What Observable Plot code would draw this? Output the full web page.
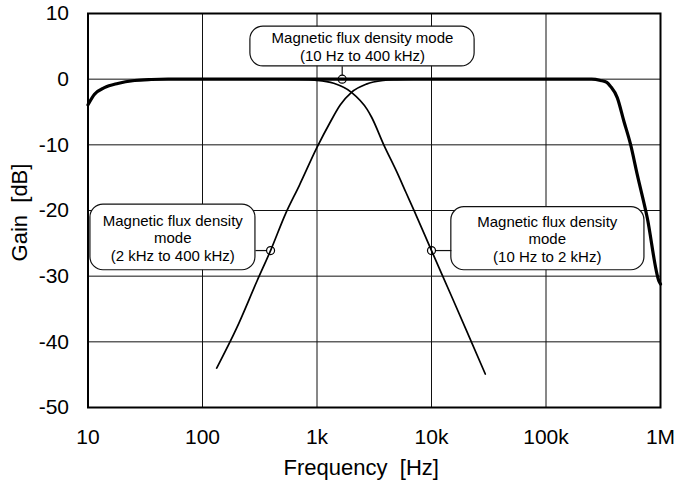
<!DOCTYPE html>
<html><head><meta charset="utf-8">
<script src="https://cdn.jsdelivr.net/npm/d3@7"></script>
<script src="https://cdn.jsdelivr.net/npm/@observablehq/plot@0.6"></script>
<style>html,body{margin:0;padding:0;background:#fff;} svg{display:block}</style>
</head><body><div id="chart"></div>
<script>
// Axis ticks
const xTicks = [10, 100, 1e3, 1e4, 1e5, 1e6];
const xTickLabels = ["10", "100", "1k", "10k", "100k", "1M"];
const yTicks = [-50, -40, -30, -20, -10, 0, 10];
const yTickLabels = ["-50", "-40", "-30", "-20", "-10", "0", "10"];
const xTitle = "Frequency  [Hz]";
const yTitle = "Gain  [dB]";

// Series: 10 Hz to 400 kHz (thick)
const wideFreq = [10, 11.4, 13.9, 18.2, 25.5, 35.6, 50, 100, 1000, 10000, 100000, 250000, 300000, 340000, 366000, 419000, 479000, 547000, 626000, 766000, 967000, 1000000];
const wideGain = [-3.9, -2.3, -1.3, -0.65, -0.2, -0.05, 0, 0, 0, 0, 0, 0, -0.2, -0.5, -1.1, -2.8, -6.4, -9.9, -14.5, -21.1, -30.7, -31.2];
// Series: 2 kHz to 400 kHz (rising)
const highFreq = [133, 200, 300, 393, 531, 700, 1000, 1300, 1600, 2000, 2700, 3800, 5000, 7000];
const highGain = [-44, -37.8, -30.7, -26.1, -20.5, -16.2, -10.4, -6.6, -3.9, -2.0, -0.75, -0.2, -0.07, 0];
// Series: 10 Hz to 2 kHz (falling)
const lowFreq = [300, 700, 1000, 1400, 2000, 2740, 3000, 3830, 5000, 6000, 7000, 10000, 15000, 20000, 29500];
const lowGain = [0, -0.04, -0.17, -0.63, -2.0, -4.6, -5.8, -10, -14.2, -17.3, -19.9, -26.1, -33.1, -38.1, -44.9];

// Annotations (data units)
const boxLabels = ["Magnetic flux density mode\n(10 Hz to 400 kHz)", "Magnetic flux density\nmode\n(2 kHz to 400 kHz)", "Magnetic flux density\nmode\n(10 Hz to 2 kHz)"];
const boxX1 = [262, 10.5, 14900];
const boxX2 = [23800, 290, 724000];
const boxY1 = [8.0, -19.1, -19.5];
const boxY2 = [1.95, -29.1, -29.1];
const textX = [2495, 55, 102600];
const textY = [4.97, -24.14, -24.3];
const markerX = [1660, 393, 10000];
const markerY = [0, -26.1, -26.1];
const linkX1 = [1660, 290, 10800];
const linkX2 = [1660, 363, 14900];
const linkY1 = [1.95, -26.1, -26.1];
const linkY2 = [0.6, -26.1, -26.1];

const rows = [];
wideFreq.forEach((f, i) => rows.push({f, g: wideGain[i], s: "wide"}));
highFreq.forEach((f, i) => rows.push({f, g: highGain[i], s: "high"}));
lowFreq.forEach((f, i) => rows.push({f, g: lowGain[i], s: "low"}));
const boxes = boxLabels.map((label, i) => ({label, x1: boxX1[i], x2: boxX2[i], y1: boxY1[i], y2: boxY2[i], tx: textX[i], ty: textY[i]}));
const markers = markerX.map((x, i) => ({x, y: markerY[i]}));
const links = linkX1.map((x1, i) => ({x1, x2: linkX2[i], y1: linkY1[i], y2: linkY2[i]}));

const xFmt = new Map(xTicks.map((t, i) => [t, xTickLabels[i]]));
const yFmt = new Map(yTicks.map((t, i) => [t, yTickLabels[i]]));

const chart = Plot.plot({
  width: 677,
  height: 484,
  marginLeft: 87.5,
  marginRight: 17,
  marginTop: 13,
  marginBottom: 77,
  style: {fontFamily: "'Liberation Sans', Arial, sans-serif", fontSize: "21px", background: "white", color: "black"},
  x: {type: "log", domain: [10, 1e6]},
  y: {domain: [-50, 10]},
  marks: [
    Plot.ruleX(xTicks, {stroke: "#111", strokeWidth: 1}),
    Plot.ruleY(yTicks, {stroke: "#111", strokeWidth: 1}),
    Plot.rect(boxes, {x1: "x1", x2: "x2", y1: "y1", y2: "y2", fill: "white", stroke: "#111", strokeWidth: 1.2, rx: 13}),
    Plot.text(boxes, {x: "tx", y: "ty", text: "label", fontSize: 15, lineHeight: 1.17, fill: "black"}),
    Plot.link(links, {x1: "x1", x2: "x2", y1: "y1", y2: "y2", stroke: "#111", strokeWidth: 1.2}),
    Plot.line(rows.filter(d => d.s === "high"), {x: "f", y: "g", stroke: "black", strokeWidth: 1.7, curve: "monotone-x"}),
    Plot.line(rows.filter(d => d.s === "low"), {x: "f", y: "g", stroke: "black", strokeWidth: 1.7, curve: "monotone-x"}),
    Plot.line(rows.filter(d => d.s === "wide"), {x: "f", y: "g", stroke: "black", strokeWidth: 3.2, curve: "monotone-x"}),
    Plot.dot(markers, {x: "x", y: "y", r: 4, stroke: "black", strokeWidth: 1.2, fill: "none"}),
    Plot.frame({stroke: "black", strokeWidth: 2}),
    Plot.axisX(xTicks, {tickSize: 0, tickPadding: 22, tickFormat: d => xFmt.get(d), fontSize: 21, label: null}),
    Plot.axisY(yTicks, {tickSize: 0, tickPadding: 19, tickFormat: d => yFmt.get(d), fontSize: 21, label: null}),
    Plot.text([xTitle], {frameAnchor: "bottom", textAnchor: "middle", lineAnchor: "bottom", dx: -13, dy: 67, fontSize: 22}),
    Plot.text([yTitle], {frameAnchor: "left", textAnchor: "middle", lineAnchor: "bottom", rotate: -90, dx: -61, dy: 2, fontSize: 22})
  ]
});
document.getElementById("chart").appendChild(chart);
</script>
</body></html>
